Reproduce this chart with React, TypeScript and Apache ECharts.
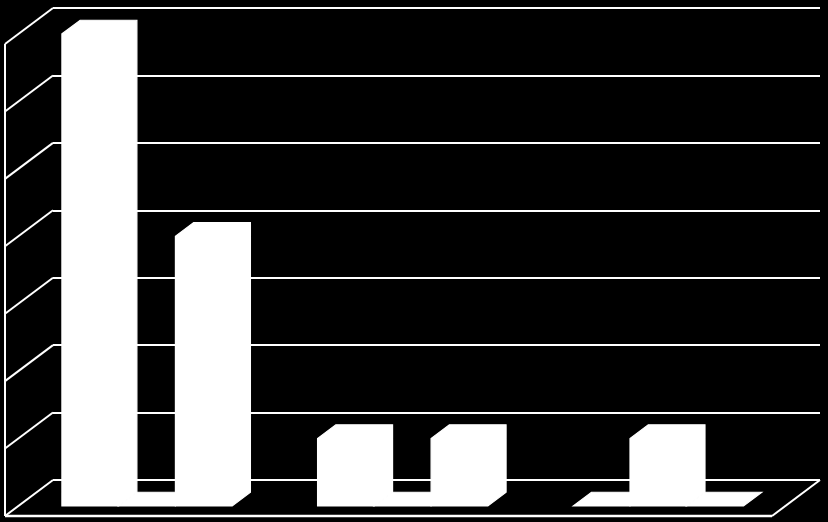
import React, { useEffect, useRef } from 'react';
import * as echarts from 'echarts';

const categories = ['Category 1', 'Category 2', 'Category 3'];
const series1 = [7, 1, 0];
const series2 = [0, 0, 1];
const series3 = [4, 1, 0];
const seriesList = [series1, series2, series3];
const yMax = 7;
const yStep = 1;

// oblique projection: full depth of the floor, and where the bars sit in it
const DEPTH_X = -48;
const DEPTH_Y = 36;
const BAR_BACK = 0.34;
const BAR_FRONT = 0.72;
const GROUP_PAD = 0.17;
const BAR_FRAC = 0.222;

function makeBarRender(k: number) {
  return (params: any, api: any) => {
    const cat = api.value(0);
    const val = api.value(1);
    const base = api.coord([cat, 0]);
    const top = api.coord([cat, val]);
    const band = api.size([1, 0])[0];
    const x0 = base[0] - band / 2 + band * (GROUP_PAD + BAR_FRAC * k);
    const x1 = x0 + band * BAR_FRAC;
    const bx = DEPTH_X * BAR_BACK;
    const by = DEPTH_Y * BAR_BACK;
    const fx = DEPTH_X * BAR_FRONT;
    const fy = DEPTH_Y * BAR_FRONT;
    return {
      type: 'polygon',
      shape: {
        points: [
          [x0 + fx, base[1] + fy],
          [x0 + fx, top[1] + fy],
          [x0 + bx, top[1] + by],
          [x1 + bx, top[1] + by],
          [x1 + bx, base[1] + by],
          [x1 + fx, base[1] + fy],
        ],
      },
      style: { fill: '#fff', stroke: '#fff', lineWidth: 1.2 },
    };
  };
}

function renderFrame(params: any, api: any) {
  const cs = params.coordSys;
  const left = cs.x;
  const right = cs.x + cs.width;
  const y0 = api.coord([0, 0])[1];
  const yTop = api.coord([0, yMax])[1];
  const lineStyle = { stroke: '#fff', lineWidth: 2 };
  const children: any[] = [];
  for (let v = 0; v <= yMax; v += yStep) {
    const y = api.coord([0, v])[1];
    children.push({
      type: 'line',
      shape: { x1: left, y1: y, x2: left + DEPTH_X, y2: y + DEPTH_Y },
      style: lineStyle,
    });
  }
  children.push({
    type: 'line',
    shape: { x1: left + DEPTH_X, y1: yTop + DEPTH_Y, x2: left + DEPTH_X, y2: y0 + DEPTH_Y },
    style: lineStyle,
  });
  children.push({
    type: 'line',
    shape: { x1: left + DEPTH_X, y1: y0 + DEPTH_Y, x2: right + DEPTH_X, y2: y0 + DEPTH_Y },
    style: { stroke: '#fff', lineWidth: 2.5 },
  });
  children.push({
    type: 'line',
    shape: { x1: right + DEPTH_X, y1: y0 + DEPTH_Y, x2: right, y2: y0 },
    style: lineStyle,
  });
  return { type: 'group', children };
}

export default function App() {
  const chartRef = useRef<HTMLDivElement>(null);

  useEffect(() => {
    document.body.style.margin = '0';
    if (!chartRef.current) return;
    const chart = echarts.init(chartRef.current, null, { renderer: 'svg' });

    const option: any = {
      animation: false,
      backgroundColor: '#000',
      grid: { left: 53, right: 8, top: 8, bottom: 42 },
      xAxis: {
        type: 'category',
        data: categories,
        axisLabel: { show: false },
        axisLine: { show: false },
        axisTick: { show: false },
        splitLine: { show: false },
      },
      yAxis: {
        type: 'value',
        min: 0,
        max: yMax,
        interval: yStep,
        axisLabel: { show: false },
        axisLine: { show: false },
        axisTick: { show: false },
        splitLine: { show: true, lineStyle: { color: '#fff', width: 2 } },
      },
      series: [
        {
          type: 'custom',
          z: 1,
          silent: true,
          renderItem: renderFrame,
          data: [[0, 0]],
        },
        ...seriesList.map((vals, k) => ({
          type: 'custom',
          z: 2,
          renderItem: makeBarRender(k),
          data: vals.map((v, i) => [i, v]),
        })),
      ],
    };
    chart.setOption(option);

    const resizeHandler = () => chart.resize();
    window.addEventListener('resize', resizeHandler);
    return () => {
      window.removeEventListener('resize', resizeHandler);
      chart.dispose();
    };
  }, []);

  return <div ref={chartRef} style={{ width: '828px', height: '522px' }} />;
}
